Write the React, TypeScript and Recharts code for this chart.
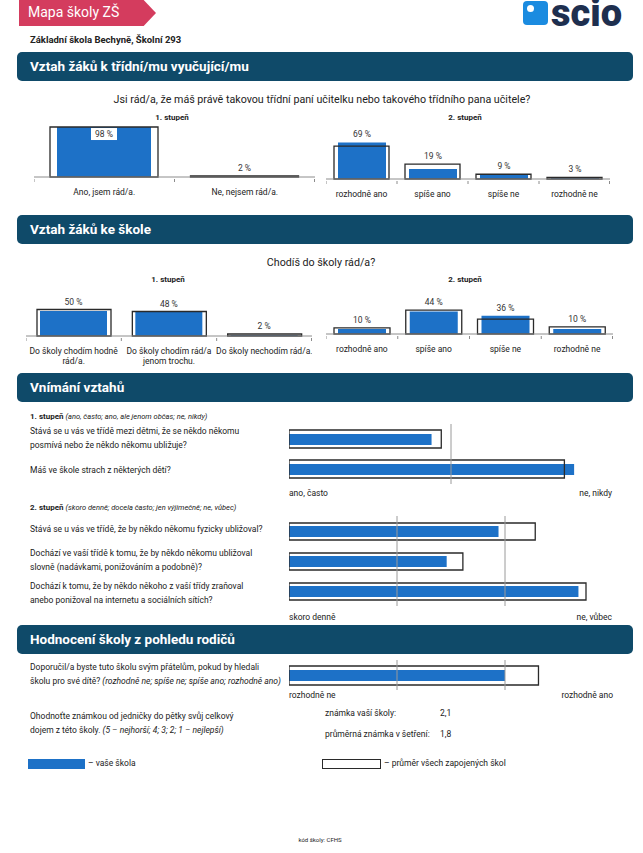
import { Bar, BarChart, LabelList, ReferenceLine, XAxis, YAxis } from 'recharts';

const FONT = 'Roboto, "Open Sans", sans-serif';
const BLUE = '#1d71c7';
const NAVY = '#0f4a69';
const INK = '#222';
const OUTLINE = '#2a2a2a';

// Vztah k třídní/mu
const q1Cats1 = ['Ano, jsem rád/a.', 'Ne, nejsem rád/a.'];
const q1School1 = [98, 2];
const q1Avg1 = [98, 2];
const q1Cats2 = ['rozhodně ano', 'spíše ano', 'spíše ne', 'rozhodně ne'];
const q1School2 = [69, 19, 9, 3];
const q1Avg2 = [62, 28, 9, 3];

// Vztah ke škole
const q2Cats1 = ['Do školy chodím hodně rád/a.', 'Do školy chodím rád/a jenom trochu.', 'Do školy nechodím rád/a.'];
const q2School1 = [50, 48, 2];
const q2Avg1 = [53, 49, 4];
const q2Cats2 = ['rozhodně ano', 'spíše ano', 'spíše ne', 'rozhodně ne'];
const q2School2 = [10, 44, 36, 10];
const q2Avg2 = [12, 47, 29, 14];

// Vnímání vztahů (škála 1 = nejhorší ... max = nejlepší)
const rel1Lines = [
  ['Stává se u vás ve třídě mezi dětmi, že se někdo někomu', 'posmívá nebo že někdo někomu ubližuje?'],
  ['Máš ve škole strach z některých dětí?'],
];
const rel1School = [1.88, 2.76];
const rel1Avg = [1.94, 2.7];
const rel2Lines = [
  ['Stává se u vás ve třídě, že by někdo někomu fyzicky ubližoval?'],
  ['Dochází ve vaší třídě k tomu, že by někdo někomu ubližoval', 'slovně (nadávkami, ponižováním a podobně)?'],
  ['Dochází k tomu, že by někdo někoho z vaší třídy zraňoval', 'anebo ponižoval na internetu a sociálních sítích?'],
];
const rel2School = [2.94, 2.46, 3.68];
const rel2Avg = [3.28, 2.61, 3.75];

// Rodiče
const parQs = ['Doporučil/a byste tuto školu svým přátelům?'];
const parSchool = [3.0];
const parAvg = [3.31];
const gradeLabels = ['známka vaší školy:', 'průměrná známka v šetření:'];
const gradeValues = [2.1, 1.8];

type TP = { x: number; y: number; s?: number; b?: boolean; i?: boolean; c?: string; a?: 'l' | 'r' | 'c'; children: any };
function T({ x, y, s = 8.5, b, i, c = INK, a = 'l', children }: TP) {
  const st: any = {
    position: 'absolute', top: y - s * 0.65, fontSize: s, lineHeight: `${s * 1.3}px`,
    fontWeight: b ? 700 : 400, fontStyle: i ? 'italic' : 'normal', color: c, whiteSpace: 'nowrap',
  };
  if (a === 'l') st.left = x;
  else if (a === 'r') st.right = 643 - x;
  else { st.left = x; st.transform = 'translateX(-50%)'; }
  return <div style={st}>{children}</div>;
}

function Banner({ y, title }: { y: number; title: string }) {
  return (
    <div style={{ position: 'absolute', left: 17, top: y, width: 616, height: 29, background: NAVY, borderRadius: 5 }}>
      <div style={{ position: 'absolute', left: 13, top: 5, lineHeight: '18px', color: '#fff', fontWeight: 700, fontSize: 13.5, whiteSpace: 'nowrap' }}>{title}</div>
    </div>
  );
}

// category label wrapped by the browser, plus small ticks at the category borders
const WrapTick = (p: any) => (
  <g>
    <line x1={p.x - p.cw / 2} x2={p.x - p.cw / 2} y1={p.y} y2={p.y + 3} stroke="#8c8c8c" />
    {p.index === p.n - 1 && <line x1={p.x + p.cw / 2 - 0.5} x2={p.x + p.cw / 2 - 0.5} y1={p.y} y2={p.y + 3} stroke="#8c8c8c" />}
    <foreignObject x={p.x - p.w / 2} y={p.y + 8} width={p.w} height={24}>
      <div style={{ textAlign: 'center', fontSize: 8.5, lineHeight: '10px', color: INK, fontFamily: FONT }}>{p.payload.value}</div>
    </foreignObject>
  </g>
);

type VP = { cats: string[]; school: number[]; avg: number[]; left: number; base: number; width: number; plotH: number; outW: number; blueW: number; tickW: number };
function VChart({ cats, school, avg, left, base, width, plotH, outW, blueW, tickW }: VP) {
  const data = cats.map((name, i) => ({ name, school: school[i], avg: avg[i] }));
  const M = 22;
  const renderPct = (p: any) => {
    const { x, y, width: w, height: h, value, index } = p;
    const b = y + h;
    const ppu = h / value;
    const top = b - Math.max(value, avg[index]) * ppu;
    const cx = x + w / 2;
    if (value > 90) {
      return (
        <g>
          <rect x={cx - 13} y={top + 1} width={26} height={12} fill="#fff" />
          <text x={cx} y={top + 7} textAnchor="middle" dominantBaseline="central" fontSize={8.5} fill="#333" fontFamily={FONT}>{`${value} %`}</text>
        </g>
      );
    }
    return <text x={cx} y={top - 8} textAnchor="middle" dominantBaseline="central" fontSize={8.5} fill="#333" fontFamily={FONT}>{`${value} %`}</text>;
  };
  return (
    <div style={{ position: 'absolute', left, top: base - plotH - M }}>
      <BarChart width={width} height={M + plotH + 36} data={data} margin={{ top: M, right: 0, left: 0, bottom: 0 }} barCategoryGap={0} style={{ overflow: 'visible' }}>
        <XAxis xAxisId="s" dataKey="name" height={36} axisLine={{ stroke: '#8c8c8c' }} tickLine={false} tickSize={0} interval={0}
          tick={<WrapTick w={tickW} cw={width / cats.length} n={cats.length} />} />
        <XAxis xAxisId="a" dataKey="name" hide height={0} />
        <YAxis hide domain={[0, 100]} width={0} />
        <Bar xAxisId="s" dataKey="school" fill={BLUE} barSize={blueW} isAnimationActive={false}>
          <LabelList dataKey="school" content={renderPct} />
        </Bar>
        <Bar xAxisId="a" dataKey="avg" fill="none" stroke={OUTLINE} strokeWidth={1.3} barSize={outW} isAnimationActive={false} />
      </BarChart>
    </div>
  );
}

type HP = { qs: string[]; school: number[]; avg: number[]; top: number; rowH: number; max: number; outH: number; blueH: number };
function HChart({ qs, school, avg, top, rowH, max, outH, blueH }: HP) {
  const data = qs.map((q, i) => ({ q, school: school[i], avg: avg[i] }));
  const grid = [];
  for (let g = 2; g < max; g++) grid.push(g);
  return (
    <div style={{ position: 'absolute', left: 289, top }}>
      <BarChart layout="vertical" width={324} height={rowH * qs.length} data={data} margin={{ top: 0, right: 0, left: 0, bottom: 0 }} barCategoryGap={0}>
        <XAxis type="number" domain={[1, max]} hide allowDataOverflow height={0} />
        <YAxis yAxisId="s" type="category" dataKey="q" hide width={0} />
        <YAxis yAxisId="a" type="category" dataKey="q" hide width={0} />
        {grid.map((g) => <ReferenceLine key={g} yAxisId="s" x={g} stroke="#9a9a9a" />)}
        <Bar yAxisId="s" dataKey="school" fill={BLUE} barSize={blueH} isAnimationActive={false} />
        <Bar yAxisId="a" dataKey="avg" fill="none" stroke={OUTLINE} strokeWidth={1.3} barSize={outH} isAnimationActive={false} />
      </BarChart>
    </div>
  );
}

const fmt = (v: number) => v.toFixed(1).replace('.', ',');

export default function App() {
  return (
    <div style={{ position: 'relative', width: 643, height: 853, background: '#fff', fontFamily: FONT, overflow: 'hidden' }}>
      <style>{'body{margin:0}'}</style>

      {/* header */}
      <div style={{ position: 'absolute', left: 19, top: 0, width: 137, height: 26, background: '#d43c5e', clipPath: 'polygon(0 0, 91% 0, 100% 50%, 91% 100%, 0 100%)' }} />
      <T x={28} y={12} s={14} c="#fff">Mapa školy ZŠ</T>
      <div style={{ position: 'absolute', left: 523, top: 1, width: 25, height: 24, background: '#1b8be0', borderRadius: 4 }}>
        <div style={{ position: 'absolute', left: 4, top: 4, width: 7, height: 7, borderRadius: 4, background: '#fff' }} />
      </div>
      <div style={{ position: 'absolute', left: 551, top: 0, fontSize: 38, lineHeight: '26px', fontWeight: 900, color: '#1e2f4f' }}>scio</div>
      <T x={30} y={40} s={9.5} b>Základní škola Bechyně, Školní 293</T>

      {/* section 1 */}
      <Banner y={52} title="Vztah žáků k třídní/mu vyučující/mu" />
      <T x={322} y={100} s={10.7} a="c">Jsi rád/a, že máš právě takovou třídní paní učitelku nebo takového třídního pana učitele?</T>
      <T x={172} y={118} s={8} b a="c">1. stupeň</T>
      <T x={465} y={118} s={8} b a="c">2. stupeň</T>
      <VChart cats={q1Cats1} school={q1School1} avg={q1Avg1} left={34} base={177} width={281} plotH={51} outW={108} blueW={94} tickW={130} />
      <VChart cats={q1Cats2} school={q1School2} avg={q1Avg2} left={326} base={179} width={284} plotH={53} outW={55} blueW={48} tickW={70} />

      {/* section 2 */}
      <Banner y={215} title="Vztah žáků ke škole" />
      <T x={321} y={263} s={10.7} a="c">Chodíš do školy rád/a?</T>
      <T x={168} y={280} s={8} b a="c">1. stupeň</T>
      <T x={465} y={280} s={8} b a="c">2. stupeň</T>
      <VChart cats={q2Cats1} school={q2School1} avg={q2Avg1} left={26} base={336} width={286} plotH={50} outW={74} blueW={67} tickW={100} />
      <VChart cats={q2Cats2} school={q2School2} avg={q2Avg2} left={326} base={334} width={287} plotH={51} outW={56} blueW={48} tickW={70} />

      {/* section 3 */}
      <Banner y={373} title="Vnímání vztahů" />
      <T x={30} y={417} s={8}><b>1. stupeň</b> <i style={{ fontSize: 7.5 }}>(ano, často; ano, ale jenom občas; ne, nikdy)</i></T>
      {rel1Lines.map((ls, r) => ls.map((l, k) => <T key={`${r}-${k}`} x={30} y={(r === 0 ? 432 : 471) + k * 14}>{l}</T>))}
      <HChart qs={rel1Lines.map((l) => l.join(' '))} school={rel1School} avg={rel1Avg} top={424} rowH={30} max={3} outH={18} blueH={11} />
      <T x={289} y={494}>ano, často</T>
      <T x={612} y={494} a="r">ne, nikdy</T>
      <T x={30} y={508} s={8}><b>2. stupeň</b> <i style={{ fontSize: 7.5 }}>(skoro denně; docela často; jen výjimečně; ne, vůbec)</i></T>
      {rel2Lines.map((ls, r) => ls.map((l, k) => <T key={`${r}-${k}`} x={30} y={[530, 554, 587][r] + k * 14}>{l}</T>))}
      <HChart qs={rel2Lines.map((l) => l.join(' '))} school={rel2School} avg={rel2Avg} top={516} rowH={30} max={4} outH={17} blueH={11} />
      <T x={289} y={618}>skoro denně</T>
      <T x={612} y={618} a="r">ne, vůbec</T>

      {/* section 4 */}
      <Banner y={625} title="Hodnocení školy z pohledu rodičů" />
      <T x={30} y={668}>Doporučil/a byste tuto školu svým přátelům, pokud by hledali</T>
      <T x={30} y={682}>školu pro své dítě? <i>(rozhodně ne; spíše ne; spíše ano; rozhodně ano)</i></T>
      <HChart qs={parQs} school={parSchool} avg={parAvg} top={660} rowH={30} max={4} outH={19} blueH={11} />
      <T x={289} y={696}>rozhodně ne</T>
      <T x={613} y={696} a="r">rozhodně ano</T>
      <T x={30} y={717}>Ohodnoťte známkou od jedničky do pětky svůj celkový</T>
      <T x={30} y={731}>dojem z této školy. <i>(5 – nejhorší; 4; 3; 2; 1 – nejlepší)</i></T>
      {gradeLabels.map((g, i) => <T key={g} x={325} y={714 + i * 21}>{g}</T>)}
      {gradeValues.map((v, i) => <T key={i} x={440} y={714 + i * 21}>{fmt(v)}</T>)}

      {/* legend */}
      <div style={{ position: 'absolute', left: 28, top: 759, width: 57, height: 10, background: BLUE }} />
      <T x={88} y={764}>– vaše škola</T>
      <div style={{ position: 'absolute', left: 322, top: 759, width: 57, height: 8, border: `1.3px solid ${OUTLINE}` }} />
      <T x={384} y={764}>– průměr všech zapojených škol</T>

      <T x={320} y={840} s={6} a="c">kód školy: CFHS</T>
    </div>
  );
}
